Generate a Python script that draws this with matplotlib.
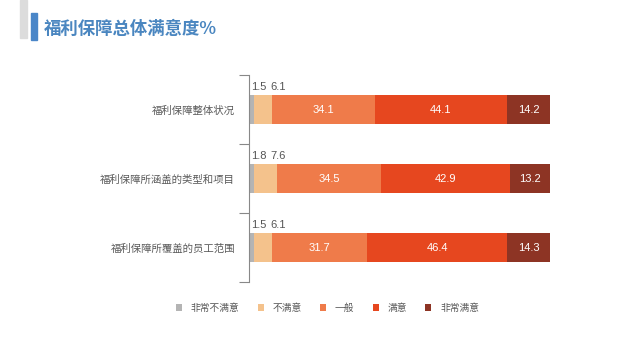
import matplotlib
matplotlib.use("Agg")
import matplotlib.pyplot as plt
from matplotlib.patches import Rectangle
import numpy as np

plt.rcParams['font.family'] = ['Noto Sans CJK SC', 'DejaVu Sans']

categories = ["福利保障整体状况", "福利保障所涵盖的类型和项目", "福利保障所覆盖的员工范围"]
series = ["非常不满意", "不满意", "一般", "满意", "非常满意"]
very_unsat = [1.5, 1.8, 1.5]
unsat = [6.1, 7.6, 6.1]
neutral = [34.1, 34.5, 31.7]
sat = [44.1, 42.9, 46.4]
very_sat = [14.2, 13.2, 14.3]
colors = ["#b4b4b4", "#f4c28c", "#ef7b4a", "#e6471f", "#8d3424"]

values = [very_unsat, unsat, neutral, sat, very_sat]
num_font = ["Liberation Sans", "DejaVu Sans"]

fig = plt.figure(figsize=(6.4, 3.6), dpi=100)
fig.patch.set_facecolor("white")

# header decoration
fig.patches.append(Rectangle((20/640, 1-38/360), 7/640, 38/360, transform=fig.transFigure,
                             color="#dcdcdc", zorder=0))
fig.patches.append(Rectangle((31/640, 1-40/360), 6/640, 27/360, transform=fig.transFigure,
                             color="#4a86c8", zorder=1))
fig.text(44/640, 1-29/360, "福利保障总体满意度%", fontsize=12.5, fontweight="bold",
         color="#4a86c0", va="center", ha="left")

ax = fig.add_axes([249/640, 1-282/360, 301/640, 207/360])
y = np.arange(len(categories))
left = np.zeros(len(categories))
for name, vals, c in zip(series, values, colors):
    ax.barh(y, vals, left=left, height=0.41, color=c, label=name)
    for i, v in enumerate(vals):
        if v > 10:
            ax.text(left[i] + v / 2, y[i], f"{v:.1f}", ha="center", va="center",
                    color="white", fontsize=8, family=num_font)
    left = left + np.array(vals)

# small values above the bars
for i in range(len(categories)):
    ax.text(0.6, y[i] - 0.26, f"{very_unsat[i]:.1f}", ha="left", va="bottom",
            color="#555555", fontsize=8, family=num_font)
    ax.text(7.0, y[i] - 0.26, f"{unsat[i]:.1f}", ha="left", va="bottom",
            color="#555555", fontsize=8, family=num_font)

ax.set_xlim(0, 100)
ax.set_ylim(2.5, -0.5)
ax.set_yticks(y)
ax.set_yticklabels(categories, fontsize=7.5, color="#595959")
ax.set_yticks([-0.5, 0.5, 1.5, 2.5], minor=True)
ax.tick_params(axis="y", which="major", length=0, pad=10)
ax.tick_params(axis="y", which="minor", length=7, color="#888888", width=0.8)
ax.set_xticks([])
for s in ["top", "right", "bottom"]:
    ax.spines[s].set_visible(False)
ax.spines["left"].set_color("#888888")
ax.spines["left"].set_linewidth(0.8)

handles, labels = ax.get_legend_handles_labels()
fig.legend(handles, labels, loc="center", bbox_to_anchor=(0.512, 1-308/360), ncol=5,
           frameon=False, fontsize=7, handlelength=0.6, handleheight=0.6,
           columnspacing=1.9, handletextpad=0.9, labelcolor="#595959")

fig.savefig("out.png", dpi=100)
